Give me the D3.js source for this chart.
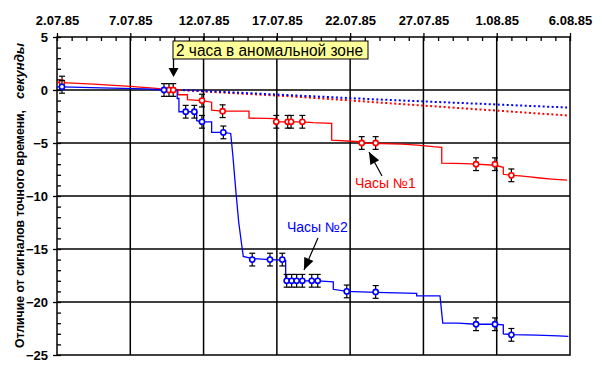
<!DOCTYPE html>
<html>
<head>
<meta charset="utf-8">
<script src="https://cdn.jsdelivr.net/npm/d3@7"></script>
<style>
  body { margin: 0; background: #fff; }
  text { font-family: "Liberation Sans", Arial, sans-serif; }
</style>
</head>
<body>
<script>
// day 0 = 2.07.85
var tickDays = [0, 5, 10, 15, 20, 25, 30, 35];
var tickLabels = ["2.07.85", "7.07.85", "12.07.85", "17.07.85", "22.07.85", "27.07.85", "1.08.85", "6.08.85"];
var yTicks = [5, 0, -5, -10, -15, -20, -25];

// clock 1 (red) measurements: day, seconds
var clock1Days = [0.34, 7.64, 7.93, 9.89, 11.3, 14.96, 15.74, 15.97, 16.74, 20.79, 21.74, 28.59, 29.88, 31.0];
var clock1Vals = [0.7, 0.0, 0.0, -1.0, -2.0, -3.0, -3.0, -3.0, -3.0, -5.0, -5.0, -7.0, -7.0, -8.05];

// clock 2 (blue) measurements
var clock2Days = [0.34, 7.30, 8.78, 9.37, 9.89, 11.35, 13.32, 14.53, 15.37, 15.67, 16.01, 16.35, 16.74, 17.38, 17.79, 19.77, 21.74, 28.59, 29.88, 31.0];
var clock2Vals = [0.3, 0.0, -2.05, -2.05, -3.0, -4.0, -16.0, -16.0, -16.0, -18.0, -18.0, -18.0, -18.0, -18.0, -18.0, -19.0, -19.05, -22.1, -22.1, -23.1];

// continuous record, clock 1
var line1Days = [0, 0.34, 2.5, 5.0, 6.8, 7.64, 8.25, 8.25, 8.9, 8.9, 9.89, 10.55, 10.55, 11.3, 13.1, 13.1, 14.9, 14.96, 16.74, 17.47, 18.74, 18.74, 20.67, 20.79, 23.52, 24.6, 25.65, 26.25, 26.25, 27.84, 28.59, 29.88, 30.45, 30.45, 31.0, 31.59, 32.27, 32.95, 33.75, 34.8];
var line1Vals = [0.75, 0.7, 0.55, 0.35, 0.15, 0.0, 0.0, -0.45, -0.45, -0.9, -1.0, -1.15, -1.9, -2.0, -2.0, -2.65, -2.7, -3.0, -3.0, -3.08, -3.15, -4.72, -4.88, -5.0, -5.1, -5.2, -5.35, -5.4, -6.9, -6.95, -7.0, -7.1, -7.3, -7.95, -8.05, -8.1, -8.2, -8.3, -8.4, -8.5];

// continuous record, clock 2
var line2Days = [0, 0.34, 3.0, 6.0, 7.3, 8.2, 8.2, 8.32, 8.32, 9.37, 9.53, 9.53, 9.89, 10.55, 10.55, 11.35, 11.85, 12.0, 12.2, 12.4, 12.6, 12.71, 13.32, 14.53, 15.37, 15.6, 15.6, 17.79, 18.85, 18.85, 19.77, 21.74, 24.54, 24.54, 26.13, 26.32, 27.36, 28.59, 29.88, 30.45, 30.45, 31.0, 32.73, 34.2, 34.89];
var line2Vals = [0.3, 0.3, 0.2, 0.1, 0.0, 0.0, -0.8, -0.8, -2.05, -2.05, -2.1, -2.9, -3.0, -3.0, -4.0, -4.0, -4.1, -6.2, -9.5, -12.5, -14.6, -15.7, -15.9, -16.0, -16.05, -16.1, -18.0, -18.0, -18.1, -18.8, -19.0, -19.1, -19.18, -19.43, -19.43, -22.0, -22.0, -22.1, -22.1, -22.15, -23.0, -23.08, -23.12, -23.2, -23.25];

// dotted trends
var trend1Days = [8.3, 16, 23.2, 34.8];
var trend1Vals = [0, -0.6, -1.3, -2.4];
var trend2Days = [8.6, 22.0, 34.8];
var trend2Vals = [0, -0.9, -1.65];

var errHalf = 0.6;

var W = 604, H = 376;
var pL = 57, pR = 570, pT = 37, pB = 355;

var svg = d3.select("body").append("svg")
  .attr("width", W).attr("height", H);

var x = d3.scaleLinear().domain([0, 35]).range([pL, pR]);
var y = d3.scaleLinear().domain([-25, 5]).range([pB, pT]);

// grid
svg.append("g").selectAll("line").data(tickDays.slice(1, -1)).enter().append("line")
  .attr("x1", d => x(d)).attr("x2", d => x(d)).attr("y1", pT).attr("y2", pB)
  .attr("stroke", "#000").attr("stroke-width", 1.5);
svg.append("g").selectAll("line").data(yTicks.slice(1, -1)).enter().append("line")
  .attr("y1", d => y(d)).attr("y2", d => y(d)).attr("x1", pL).attr("x2", pR)
  .attr("stroke", "#000").attr("stroke-width", 1.5);

// frame
svg.append("rect").attr("x", pL).attr("y", pT)
  .attr("width", pR - pL).attr("height", pB - pT)
  .attr("fill", "none").attr("stroke", "#000").attr("stroke-width", 1.5);

// top axis
var minorDays = d3.range(0, 36);
var xMinor = svg.append("g").attr("transform", "translate(0," + pT + ")")
  .call(d3.axisTop(x).tickValues(minorDays).tickSize(-4).tickFormat(""));
var xMajor = svg.append("g").attr("transform", "translate(0," + pT + ")")
  .call(d3.axisTop(x).tickValues(tickDays).tickSizeInner(4).tickSizeOuter(0).tickPadding(8)
    .tickFormat((d, i) => tickLabels[i]));

// left axis
var yMinor = svg.append("g").attr("transform", "translate(" + pL + ",0)")
  .call(d3.axisLeft(y).tickValues(d3.range(-25, 6)).tickSize(-4).tickFormat(""));
var yMajor = svg.append("g").attr("transform", "translate(" + pL + ",0)")
  .call(d3.axisLeft(y).tickValues(yTicks).tickSizeInner(4).tickSizeOuter(0).tickPadding(5)
    .tickFormat(d3.format("d")));

[xMinor, xMajor, yMinor, yMajor].forEach(function (g) {
  g.select(".domain").remove();
  g.selectAll("line").attr("stroke", "#000").attr("stroke-width", 1.3);
  g.selectAll("text").attr("font-size", 13).attr("font-weight", "bold")
    .attr("fill", "#000").style("font-family", "'Liberation Sans', Arial, sans-serif");
});

// axis title
svg.append("text")
  .attr("transform", "translate(24,348) rotate(-90)")
  .attr("font-size", 13).attr("font-weight", "bold")
  .attr("textLength", 238).attr("lengthAdjust", "spacingAndGlyphs")
  .text("Отличие от сигналов точного времени,");
svg.append("text")
  .attr("transform", "translate(24,99) rotate(-90)")
  .attr("font-size", 13).attr("font-weight", "bold").attr("font-style", "italic")
  .attr("textLength", 56).attr("lengthAdjust", "spacingAndGlyphs")
  .text("секунды");

var line = d3.line().x(d => x(d[0])).y(d => y(d[1]));

function zip(a, b) { return a.map((v, i) => [v, b[i]]); }

// dotted trends
svg.append("path").datum(zip(trend1Days, trend1Vals)).attr("d", line)
  .attr("fill", "none").attr("stroke", "#f00").attr("stroke-width", 2).attr("stroke-dasharray", "2,2.5");
svg.append("path").datum(zip(trend2Days, trend2Vals)).attr("d", line)
  .attr("fill", "none").attr("stroke", "#00f").attr("stroke-width", 2).attr("stroke-dasharray", "2,2.5");

// continuous lines
svg.append("path").datum(zip(line1Days, line1Vals)).attr("d", line)
  .attr("fill", "none").attr("stroke", "#f00").attr("stroke-width", 1.3);
svg.append("path").datum(zip(line2Days, line2Vals)).attr("d", line)
  .attr("fill", "none").attr("stroke", "#00f").attr("stroke-width", 1.3);

// error bars and markers
function points(days, vals, color) {
  var data = zip(days, vals);
  var g = svg.append("g");
  var eb = g.selectAll(".eb").data(data).enter().append("g");
  eb.append("line").attr("x1", d => x(d[0])).attr("x2", d => x(d[0]))
    .attr("y1", d => y(d[1] + errHalf)).attr("y2", d => y(d[1] - errHalf));
  eb.append("line").attr("x1", d => x(d[0]) - 3).attr("x2", d => x(d[0]) + 3)
    .attr("y1", d => y(d[1] + errHalf)).attr("y2", d => y(d[1] + errHalf));
  eb.append("line").attr("x1", d => x(d[0]) - 3).attr("x2", d => x(d[0]) + 3)
    .attr("y1", d => y(d[1] - errHalf)).attr("y2", d => y(d[1] - errHalf));
  eb.selectAll("line").attr("stroke", "#000").attr("stroke-width", 1.2);
  g.selectAll("circle").data(data).enter().append("circle")
    .attr("cx", d => x(d[0])).attr("cy", d => y(d[1])).attr("r", 2.6)
    .attr("fill", "#fff").attr("stroke", color).attr("stroke-width", 1.6);
}
points(clock1Days, clock1Vals, "#f00");
points(clock2Days, clock2Vals, "#00f");

// annotation: 2 hours in anomalous zone
var annDay = 7.95;
svg.append("line").attr("x1", x(annDay)).attr("x2", x(annDay)).attr("y1", 58).attr("y2", 70)
  .attr("stroke", "#000").attr("stroke-width", 1.3);
svg.append("path")
  .attr("d", "M" + (x(annDay) - 5) + ",68 L" + (x(annDay) + 5) + ",68 L" + x(annDay) + ",77 Z")
  .attr("fill", "#000");
svg.append("rect").attr("x", 173).attr("y", 41).attr("width", 195).attr("height", 18)
  .attr("fill", "#ffff99").attr("stroke", "#000").attr("stroke-width", 1);
svg.append("text").attr("x", 176).attr("y", 56).attr("font-size", 16)
  .attr("textLength", 187).attr("lengthAdjust", "spacingAndGlyphs")
  .text("2  часа в аномальной зоне");

// callouts
function callout(x1, y1, x2, y2, color, label, lx, ly) {
  svg.append("line").attr("x1", x1).attr("y1", y1).attr("x2", x2).attr("y2", y2)
    .attr("stroke", "#000").attr("stroke-width", 1.2);
  var a = Math.atan2(y2 - y1, x2 - x1);
  var L = 12, w = 5;
  var bx = x2 - L * Math.cos(a), by = y2 - L * Math.sin(a);
  svg.append("path").attr("d",
    "M" + x2 + "," + y2 +
    " L" + (bx + w * Math.sin(a)) + "," + (by - w * Math.cos(a)) +
    " L" + (bx - w * Math.sin(a)) + "," + (by + w * Math.cos(a)) + " Z")
    .attr("fill", "#000");
  svg.append("text").attr("x", lx).attr("y", ly).attr("font-size", 14)
    .attr("fill", color).text(label);
}
callout(382, 176, 369, 152, "#f00", "Часы №1", 355, 188);
callout(318, 238, 304, 270, "#00f", "Часы №2", 287, 232);
</script>
</body>
</html>
